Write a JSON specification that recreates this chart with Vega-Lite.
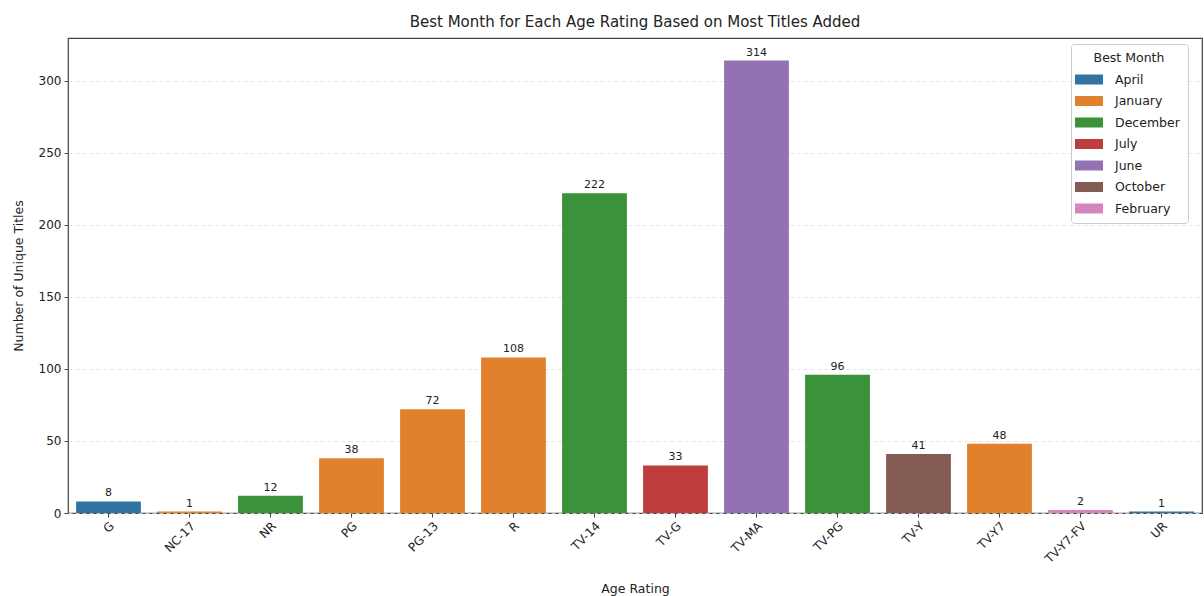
{
  "$schema": "https://vega.github.io/schema/vega-lite/v6.json",
  "autosize": {"type": "none"},
  "padding": {"left": 68, "top": 38, "right": 2, "bottom": 83},
  "width": 1134,
  "height": 475,
  "background": "white",
  "title": {
    "text": "Best Month for Each Age Rating Based on Most Titles Added",
    "font": "DejaVu Sans",
    "fontSize": 15,
    "fontWeight": "normal",
    "color": "#222",
    "anchor": "middle",
    "offset": 8
  },
  "config": {
    "view": {"stroke": "#444", "strokeWidth": 1.2},
    "font": "DejaVu Sans",
    "axis": {
      "labelFont": "DejaVu Sans",
      "labelFontSize": 12,
      "labelColor": "#222",
      "titleFont": "DejaVu Sans",
      "titleFontSize": 12.5,
      "titleFontWeight": "normal",
      "titleColor": "#222",
      "tickColor": "#444",
      "tickSize": 4,
      "domain": false
    }
  },
  "data": {
    "values": [
      {"rating": "G", "count": 8, "month": "April"},
      {"rating": "NC-17", "count": 1, "month": "January"},
      {"rating": "NR", "count": 12, "month": "December"},
      {"rating": "PG", "count": 38, "month": "January"},
      {"rating": "PG-13", "count": 72, "month": "January"},
      {"rating": "R", "count": 108, "month": "January"},
      {"rating": "TV-14", "count": 222, "month": "December"},
      {"rating": "TV-G", "count": 33, "month": "July"},
      {"rating": "TV-MA", "count": 314, "month": "June"},
      {"rating": "TV-PG", "count": 96, "month": "December"},
      {"rating": "TV-Y", "count": 41, "month": "October"},
      {"rating": "TV-Y7", "count": 48, "month": "January"},
      {"rating": "TV-Y7-FV", "count": 2, "month": "February"},
      {"rating": "UR", "count": 1, "month": "April"}
    ]
  },
  "encoding": {
    "x": {
      "field": "rating",
      "type": "nominal",
      "sort": null,
      "scale": {"paddingInner": 0.2, "paddingOuter": 0.1},
      "axis": {
        "title": "Age Rating",
        "labelAngle": -45,
        "labelAlign": "right",
        "labelBaseline": "top",
        "labelPadding": 3,
        "titlePadding": 18,
        "grid": false
      }
    },
    "y": {
      "field": "count",
      "type": "quantitative",
      "scale": {"domain": [0, 329.7], "nice": false},
      "axis": {
        "title": "Number of Unique Titles",
        "values": [0, 50, 100, 150, 200, 250, 300],
        "grid": true,
        "gridColor": "#e0e0e0",
        "gridDash": [4, 3],
        "gridWidth": 0.8,
        "labelPadding": 3,
        "titlePadding": 13
      }
    }
  },
  "layer": [
    {
      "mark": {"type": "bar"},
      "encoding": {
        "color": {
          "field": "month",
          "type": "nominal",
          "scale": {
            "domain": ["April", "January", "December", "July", "June", "October", "February"],
            "range": ["#3274a1", "#e1812c", "#3a923a", "#c03d3e", "#9372b2", "#845b53", "#d684bd"]
          },
          "legend": {
            "title": "Best Month",
            "orient": "none",
            "legendX": 1003,
            "legendY": 6,
            "titleAnchor": "middle",
            "titleFont": "DejaVu Sans",
            "titleFontSize": 12.5,
            "titleFontWeight": "normal",
            "titleColor": "#222",
            "titlePadding": 5,
            "labelFont": "DejaVu Sans",
            "labelFontSize": 12.5,
            "labelColor": "#222",
            "symbolType": "M-1.4,-0.5H1.4V0.5H-1.4Z",
            "symbolSize": 400,
            "symbolStrokeWidth": 0,
            "symbolOpacity": 1,
            "rowPadding": 4.5,
            "labelOffset": 16,
            "padding": 8,
            "strokeColor": "#cccccc",
            "fillColor": "white",
            "cornerRadius": 3
          }
        }
      }
    },
    {
      "mark": {"type": "text", "baseline": "bottom", "dy": -3, "fontSize": 11, "color": "#222", "font": "DejaVu Sans"},
      "encoding": {
        "text": {"field": "count", "type": "quantitative"}
      }
    }
  ]
}
